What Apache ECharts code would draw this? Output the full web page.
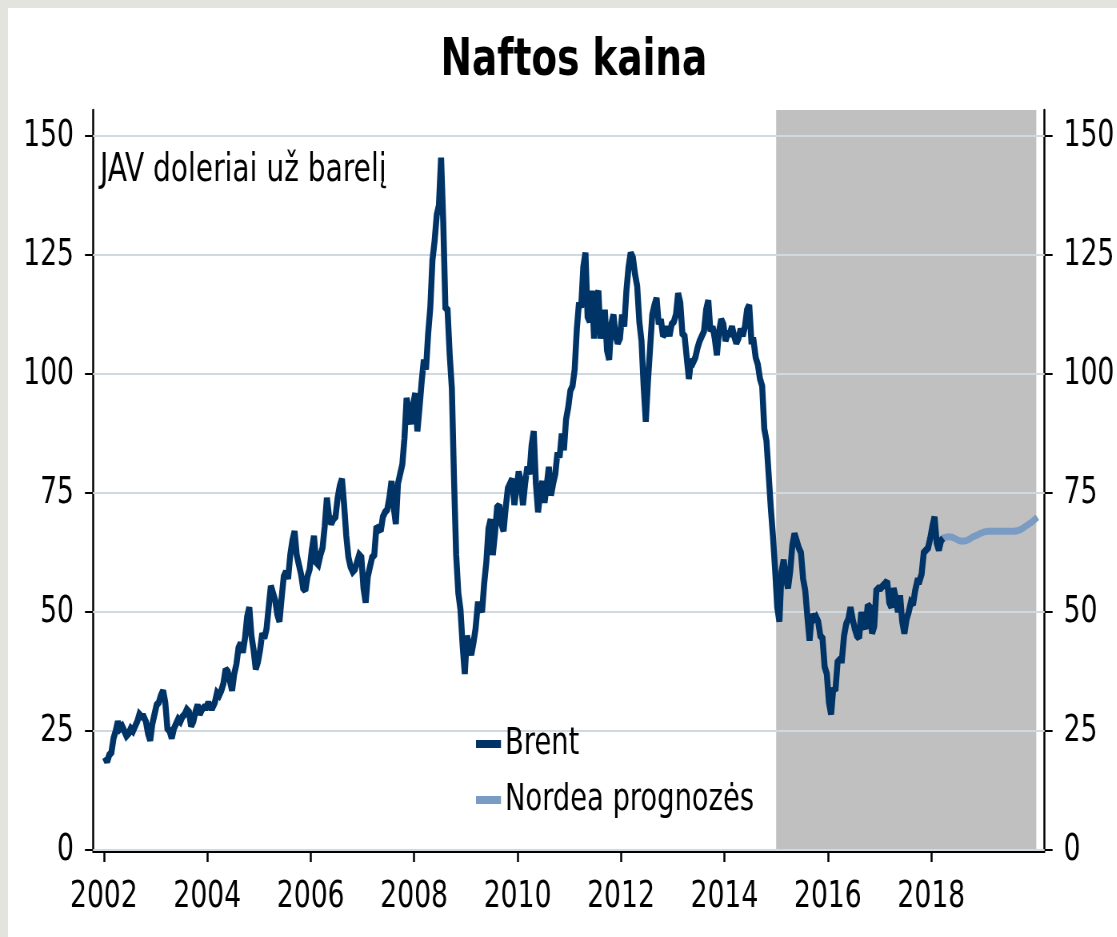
<!DOCTYPE html>
<html>
<head>
<meta charset="utf-8">
<title>Naftos kaina</title>
<script src="https://cdn.jsdelivr.net/npm/echarts@6/dist/echarts.min.js"></script>
<style>
html, body { margin: 0; padding: 0; height: 100%; overflow: hidden; background: #e4e4de; }
#panel { position: absolute; left: 8px; top: 8px; right: 0; bottom: 0; overflow: hidden; background: #fff; }
#chart { position: absolute; left: 0; top: 0; transform-origin: 0 0; }
</style>
</head>
<body>
<div id="panel"><div id="chart"></div></div>
<script>
// Brent, USD/bbl, two readings per month (1st and 2nd half)
var brent2002 = [19.5, 18.5, 20.0, 20.5, 23.5, 25.0, 27.0, 25.5, 26.0, 25.0, 24.0, 24.5, 25.5, 25.0, 26.0, 27.0, 28.5, 28.0, 28.0, 27.0, 24.5, 23.0, 26.5, 28.5];
var brent2003 = [30.5, 31.0, 32.5, 33.5, 31.0, 25.5, 25.0, 23.5, 25.5, 26.5, 27.5, 27.0, 28.0, 28.5, 29.5, 29.0, 26.0, 27.0, 29.0, 30.5, 28.5, 29.5, 30.0, 30.0];
var brent2004 = [31.0, 30.0, 30.0, 31.0, 33.0, 32.5, 33.5, 35.0, 38.0, 37.5, 35.5, 33.5, 37.0, 39.0, 42.5, 43.5, 41.5, 44.5, 49.0, 51.0, 45.0, 42.0, 38.0, 39.5];
var brent2005 = [42.0, 45.5, 44.5, 46.5, 51.0, 55.5, 54.0, 52.5, 49.5, 48.0, 53.0, 57.5, 58.5, 57.0, 62.0, 65.0, 67.0, 62.0, 60.0, 58.0, 55.0, 54.5, 57.5, 59.0];
var brent2006 = [63.0, 66.0, 60.5, 60.0, 62.0, 63.5, 68.0, 74.0, 70.0, 68.5, 69.5, 70.0, 74.0, 76.5, 78.0, 72.5, 66.0, 61.5, 59.5, 58.5, 59.0, 60.5, 62.0, 61.5];
var brent2007 = [55.0, 52.0, 57.5, 59.5, 61.5, 62.0, 68.0, 67.5, 67.0, 70.0, 71.0, 71.5, 74.0, 77.5, 72.0, 68.5, 77.0, 79.0, 81.0, 86.5, 95.0, 92.0, 89.5, 93.5];
var brent2008 = [96.0, 88.0, 93.0, 98.5, 103.0, 101.0, 108.5, 114.0, 124.0, 128.0, 133.5, 135.5, 145.5, 132.0, 114.0, 113.5, 104.0, 97.0, 78.0, 62.0, 54.0, 50.5, 43.0, 37.0];
var brent2009 = [45.0, 43.0, 41.0, 43.5, 46.5, 51.5, 51.5, 50.0, 56.0, 60.5, 67.5, 69.5, 62.0, 66.5, 72.0, 72.5, 68.5, 67.0, 72.0, 76.0, 77.0, 78.0, 72.5, 76.0];
var brent2010 = [79.5, 77.5, 72.5, 77.0, 80.5, 79.0, 85.0, 88.0, 77.0, 71.0, 75.0, 77.5, 73.0, 76.5, 80.5, 74.5, 77.0, 79.0, 83.5, 82.5, 87.5, 84.0, 90.5, 93.0];
var brent2011 = [96.5, 97.5, 101.0, 109.5, 115.0, 114.0, 122.5, 125.5, 112.0, 111.0, 117.5, 107.5, 116.0, 117.5, 107.5, 110.5, 113.5, 105.0, 103.0, 110.5, 112.5, 108.0, 106.5, 107.5];
var brent2012 = [112.5, 110.0, 117.5, 122.5, 125.5, 124.5, 121.0, 118.5, 111.0, 107.0, 97.5, 90.0, 98.5, 105.5, 112.5, 114.5, 116.0, 110.5, 111.5, 108.0, 108.5, 110.0, 108.0, 110.5];
var brent2013 = [111.0, 112.5, 117.0, 115.0, 108.5, 108.0, 103.5, 99.0, 103.0, 102.5, 103.5, 105.5, 107.0, 108.0, 109.0, 113.5, 115.5, 109.0, 110.0, 107.5, 104.0, 109.0, 111.5, 110.5];
var brent2014 = [107.0, 108.5, 108.5, 110.0, 108.0, 106.5, 107.5, 109.5, 108.0, 110.0, 113.5, 114.5, 107.0, 107.0, 103.5, 102.0, 99.0, 97.5, 88.5, 86.0, 79.0, 72.0, 66.0, 59.0];
var brent2015 = [51.0, 48.0, 58.5, 61.0, 57.0, 55.0, 58.5, 64.0, 66.5, 65.0, 63.5, 62.5, 57.0, 54.5, 49.0, 44.0, 49.5, 48.5, 49.0, 48.0, 45.0, 44.5, 38.5, 37.0];
var brent2016 = [31.0, 28.5, 34.0, 33.5, 39.5, 40.0, 40.0, 45.0, 47.5, 48.5, 51.0, 48.5, 46.5, 45.0, 44.5, 50.0, 47.5, 46.5, 51.5, 51.0, 45.5, 47.0, 54.5, 55.0];
var brent2017 = [55.0, 55.5, 56.0, 56.5, 52.0, 51.0, 55.0, 53.0, 50.0, 53.5, 48.0, 45.5, 48.5, 50.0, 52.0, 51.5, 54.5, 56.5, 56.5, 58.0, 62.5, 63.0, 63.5, 65.5];
var brent2018 = [68.0, 70.0, 64.5, 63.0, 65.0, 65.5];

// Nordea forecast [year, USD/bbl]
var forecastYears = [2018.21, 2018.35, 2018.6, 2018.85, 2019.1, 2019.35, 2019.6, 2019.85, 2020.05];
var forecastVals = [65.5, 65.8, 64.9, 66.0, 67.0, 67.0, 67.0, 68.2, 69.9];

var forecastPeriod = [2015.0, 2020.03];
var yTicks = [0, 25, 50, 75, 100, 125, 150];
var xTicks = [2002, 2004, 2006, 2008, 2010, 2012, 2014, 2016, 2018];

var brentYears = {
    2002: brent2002, 2003: brent2003, 2004: brent2004, 2005: brent2005, 2006: brent2006,
    2007: brent2007, 2008: brent2008, 2009: brent2009, 2010: brent2010, 2011: brent2011,
    2012: brent2012, 2013: brent2013, 2014: brent2014, 2015: brent2015, 2016: brent2016,
    2017: brent2017, 2018: brent2018
};
var brentData = [];
Object.keys(brentYears).forEach(function (y) {
    brentYears[y].forEach(function (v, i) {
        brentData.push([+y + (i + 0.5) / 24, v]);
    });
});
var forecastData = forecastYears.map(function (x, i) { return [x, forecastVals[i]]; });

// the original picture is squeezed sideways, so the canvas is drawn wider and scaled in x
var S = 0.8;
var panel = document.getElementById('panel');
var panelW = panel.clientWidth, panelH = panel.clientHeight;
var el = document.getElementById('chart');
el.style.width = (panelW / S) + 'px';
el.style.height = panelH + 'px';
el.style.transform = 'scaleX(' + S + ')';
function px(v) { return v / S; }   // horizontal panel px -> canvas px

var FONT = '"DejaVu Sans Condensed", "DejaVu Sans", sans-serif';
function yAxisOpt(pos, margin) {
    return {
        type: 'value',
        position: pos,
        min: 0,
        max: 155.5,
        axisLine: { show: true, lineStyle: { color: '#000', width: px(2) } },
        axisTick: { show: true, customValues: yTicks, length: px(8), lineStyle: { color: '#000', width: 2 } },
        axisLabel: { customValues: yTicks, fontSize: 37, color: '#000', fontFamily: FONT, margin: px(margin) },
        splitLine: { show: false }
    };
}

var chart = echarts.init(el);
var option = {
    animation: false,
    title: [
        { text: 'Naftos kaina', left: px(562), top: 22, textAlign: 'center',
          textStyle: { fontSize: 52, fontWeight: 'bold', color: '#000', fontFamily: FONT } },
        { text: 'JAV doleriai už barelį', left: px(92), top: 143, padding: 0,
          textStyle: { fontSize: 39, fontWeight: 'normal', color: '#000', fontFamily: FONT } }
    ],
    legend: {
        orient: 'vertical',
        left: px(464),
        top: 712,
        itemGap: 18,
        itemWidth: px(25),
        itemHeight: 8,
        icon: 'rect',
        textStyle: { fontSize: 38, color: '#000', fontFamily: FONT },
        data: ['Brent', 'Nordea prognozės']
    },
    grid: { left: px(85), right: px(panelW - 1039), top: 102, bottom: panelH - 842, containLabel: false },
    xAxis: {
        type: 'value',
        min: 2001.79,
        max: 2020.19,
        offset: 2,
        axisLine: { show: true, onZero: false, lineStyle: { color: '#000', width: 2 } },
        axisTick: { show: true, customValues: xTicks, length: 10, lineStyle: { color: '#000', width: px(2) } },
        axisLabel: { customValues: xTicks, fontSize: 37, color: '#000', fontFamily: FONT, margin: 27,
                     formatter: function (v) { return String(v); } },
        splitLine: { show: false }
    },
    yAxis: [yAxisOpt('left', 19), yAxisOpt('right', 19)],
    series: [
        {
            name: 'Nordea prognozės',
            type: 'line',
            data: forecastData,
            smooth: true,
            showSymbol: false,
            z: 2,
            color: '#7a9cc4',
            lineStyle: { width: 7, color: '#7a9cc4' },
            markArea: {
                silent: true,
                z: 0.5,
                itemStyle: { color: '#c0c0c0' },
                data: [[{ xAxis: forecastPeriod[0] }, { xAxis: forecastPeriod[1] }]]
            },
            markLine: {
                silent: true,
                z: 1,
                symbol: ['none', 'none'],
                label: { show: false },
                lineStyle: { color: '#d0d9e0', width: 2, type: 'solid' },
                data: yTicks.map(function (v) { return { yAxis: v }; })
            }
        },
        {
            name: 'Brent',
            type: 'line',
            data: brentData,
            showSymbol: false,
            z: 3,
            color: '#003366',
            lineStyle: { width: 7.5, color: '#003366', join: 'miter', miterLimit: 2 }
        }
    ]
};
chart.setOption(option);
</script>
</body>
</html>
